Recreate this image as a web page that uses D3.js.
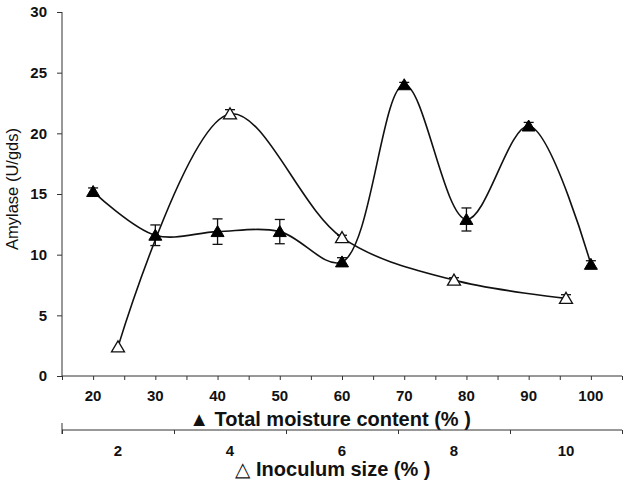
<!DOCTYPE html>
<html><head><meta charset="utf-8">
<script src="https://cdn.jsdelivr.net/npm/d3@7"></script>
<style>
body{margin:0;background:#fff;}
svg{display:block;font-family:"Liberation Sans",Arial,sans-serif;}
</style></head>
<body><div id="chart"></div>
<script>
// Data
const moisture = [20, 30, 40, 50, 60, 70, 80, 90, 100];
const moistureAmylase = [15.2, 11.6, 11.9, 11.9, 9.4, 24.0, 12.9, 20.6, 9.2];
const moistureErr = [0.3, 0.85, 1.05, 1.0, 0.35, 0.2, 0.95, 0.3, 0.3];
const inoculum = [2, 4, 6, 8, 10];
const inoculumAmylase = [2.4, 21.6, 11.4, 7.9, 6.4];
const inoculumErr = [0, 0.35, 0.2, 0.2, 0.3];
const yTicks = [0, 5, 10, 15, 20, 25, 30];
const moistureTickLabels = [20, 30, 40, 50, 60, 70, 80, 90, 100];
const moistureMinorTicks = [15, 20, 25, 30, 35, 40, 45, 50, 55, 60, 65, 70, 75, 80, 85, 90, 95, 100, 105];
const inoculumTickLabels = [2, 4, 6, 8, 10];
const inoculumMinorTicks = [1, 3, 5, 7, 9, 11];

const W = 630, H = 485;
const svg = d3.select("#chart").append("svg").attr("width", W).attr("height", H);

const x1 = d3.scaleLinear().domain([15, 105]).range([62, 622]);
const x2 = d3.scaleLinear().domain([1, 11]).range([62, 622]);
const y = d3.scaleLinear().domain([0, 30]).range([376, 12]);

const axisColor = "#333";
// Y axis
const yAxis = svg.append("g").attr("transform", "translate(62,0)")
  .call(d3.axisLeft(y).tickValues(yTicks).tickSize(5).tickPadding(10));
yAxis.select(".domain").attr("stroke", axisColor).attr("d", "M0,12V376");
yAxis.selectAll(".tick line").attr("stroke", axisColor);
yAxis.selectAll("text").attr("font-size", 15).attr("font-weight", "bold").attr("fill", "#111");

// X axis 1 (moisture)
const xAxis1 = svg.append("g").attr("transform", "translate(0,376)")
  .call(d3.axisBottom(x1).tickValues(moistureMinorTicks).tickSize(4).tickFormat(""));
xAxis1.select(".domain").attr("stroke", axisColor).attr("d", "M62,0H622");
xAxis1.selectAll(".tick line").attr("stroke", axisColor);
svg.append("g").selectAll("text").data(moistureTickLabels).join("text")
  .attr("x", d => x1(d)).attr("y", 401).attr("text-anchor", "middle")
  .attr("font-size", 15).attr("font-weight", "bold").attr("fill", "#111").text(d => d);
svg.append("text").attr("x", 330).attr("y", 426).attr("text-anchor", "middle")
  .attr("font-size", 20).attr("font-weight", "bold").attr("fill", "#111")
  .text("▲ Total moisture content (% )");

// X axis 2 (inoculum)
const xAxis2 = svg.append("g").attr("transform", "translate(0,430)")
  .call(d3.axisBottom(x2).tickValues(inoculumMinorTicks).tickSize(4).tickFormat(""));
xAxis2.select(".domain").attr("stroke", axisColor).attr("d", "M62,0H622");
xAxis2.selectAll(".tick line").attr("stroke", axisColor);
svg.append("line").attr("x1", x2(1)).attr("x2", x2(1)).attr("y1", 423).attr("y2", 434).attr("stroke", axisColor);
svg.append("g").selectAll("text").data(inoculumTickLabels).join("text")
  .attr("x", d => x2(d)).attr("y", 456).attr("text-anchor", "middle")
  .attr("font-size", 15).attr("font-weight", "bold").attr("fill", "#111").text(d => d);
const t2 = svg.append("text").attr("x", 333).attr("y", 476).attr("text-anchor", "middle")
  .attr("font-size", 20).attr("font-weight", "bold").attr("fill", "#111");
t2.append("tspan").attr("font-weight", "normal").text("△ ");
t2.append("tspan").text("Inoculum size (% )");

// Y label
svg.append("text").attr("transform", "translate(18,189) rotate(-90)")
  .attr("text-anchor", "middle").attr("font-size", 16.5).attr("fill", "#111")
  .text("Amylase (U/gds)");

// Lines
const curve = d3.curveCatmullRom.alpha(0.5);
const m1 = moisture.map((d, i) => [x1(d), y(moistureAmylase[i])]);
const m2 = inoculum.map((d, i) => [x2(d), y(inoculumAmylase[i])]);
svg.append("path").attr("d", d3.line().curve(curve)(m1)).attr("fill", "none").attr("stroke", "#111").attr("stroke-width", 1.6);
svg.append("path").attr("d", d3.line().curve(curve)(m2)).attr("fill", "none").attr("stroke", "#111").attr("stroke-width", 1.6);

// Error bars
function errBars(xs, vals, errs, xs_scale) {
  const g = svg.append("g").attr("stroke", "#111").attr("stroke-width", 1.3);
  xs.forEach((d, i) => {
    if (!errs[i]) return;
    const cx = xs_scale(d), y0 = y(vals[i] - errs[i]), y1 = y(vals[i] + errs[i]);
    g.append("line").attr("x1", cx).attr("x2", cx).attr("y1", y0).attr("y2", y1);
    g.append("line").attr("x1", cx - 5).attr("x2", cx + 5).attr("y1", y0).attr("y2", y0);
    g.append("line").attr("x1", cx - 5).attr("x2", cx + 5).attr("y1", y1).attr("y2", y1);
  });
}
errBars(moisture, moistureAmylase, moistureErr, x1);
errBars(inoculum, inoculumAmylase, inoculumErr, x2);

// Markers
function tri(cx, cy) {
  const w = 6.5, h = 11;
  return `M${cx},${cy - h * 0.55}L${cx + w},${cy + h * 0.45}L${cx - w},${cy + h * 0.45}Z`;
}
svg.append("g").selectAll("path").data(moisture).join("path")
  .attr("d", (d, i) => tri(x1(d), y(moistureAmylase[i])))
  .attr("fill", "#000").attr("stroke", "#000").attr("stroke-width", 1);
svg.append("g").selectAll("path").data(inoculum).join("path")
  .attr("d", (d, i) => tri(x2(d), y(inoculumAmylase[i])))
  .attr("fill", "#fff").attr("stroke", "#111").attr("stroke-width", 1.3);
</script></body></html>
